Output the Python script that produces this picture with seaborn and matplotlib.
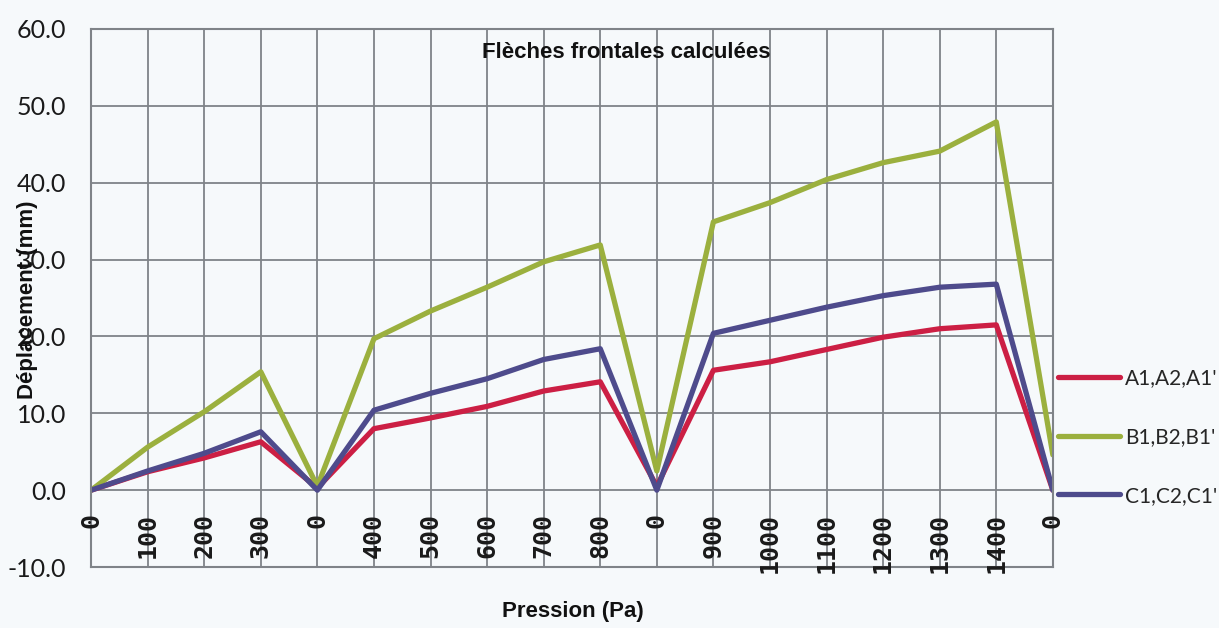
import numpy as np
import pandas as pd
import matplotlib
matplotlib.use("Agg")
import matplotlib.pyplot as plt
import seaborn as sns

# pressure steps (load / unload cycles) and computed frontal deflections (mm)
categories = ["0", "100", "200", "300", "0", "400", "500", "600", "700", "800",
              "0", "900", "1000", "1100", "1200", "1300", "1400", "0"]
series_names = ["A1,A2,A1'", "B1,B2,B1'", "C1,C2,C1'"]
serie_a = [0.0, 2.4, 4.2, 6.3, 0.3, 8.0, 9.4, 10.9, 12.9, 14.1,
           0.5, 15.6, 16.7, 18.3, 19.9, 21.0, 21.5, 0.0]
serie_b = [0.0, 5.6, 10.2, 15.4, 0.5, 19.7, 23.3, 26.4, 29.7, 31.9,
           2.5, 34.9, 37.4, 40.4, 42.6, 44.1, 47.9, 4.6]
serie_c = [0.0, 2.5, 4.8, 7.6, 0.0, 10.4, 12.6, 14.5, 17.0, 18.4,
           0.0, 20.4, 22.1, 23.8, 25.3, 26.4, 26.8, 0.0]
y_ticks = [-10, 0, 10, 20, 30, 40, 50, 60]

colors = ["#cc1f44", "#9bb03e", "#4e4b8c"]
bg = "#f6f9fb"
grid_col = "#7f8388"

sns.set_style("white")
plt.rcParams["font.family"] = ["Liberation Sans", "DejaVu Sans"]

n = len(categories)
df = pd.DataFrame({
    "pos": np.tile(np.arange(n), 3),
    "val": serie_a + serie_b + serie_c,
    "serie": np.repeat(series_names, n),
})

fig = plt.figure(figsize=(12.19, 6.28), dpi=100, facecolor=bg)
ax = fig.add_axes([0.0747, 0.097, 0.789, 0.857], facecolor=bg)

sns.lineplot(data=df, x="pos", y="val", hue="serie", hue_order=series_names,
             palette=dict(zip(series_names, colors)), linewidth=3.8,
             sort=False, estimator=None, ax=ax)

ax.set_xlim(0, n - 1)
ax.set_ylim(-10, 60)
ax.set_yticks(y_ticks)
ax.set_yticklabels([f"{v:.1f}" for v in y_ticks], fontsize=18, family="Lato", color="#1a1a1a")
ax.set_xticks(range(n))
ax.set_xticklabels([])
ax.tick_params(axis="both", length=0)
ax.tick_params(axis="y", pad=18)
ax.grid(True, color=grid_col, linewidth=1.3)
ax.set_axisbelow(True)
for s in ax.spines.values():
    s.set_color(grid_col)
    s.set_linewidth(1.5)
ax.set_xlabel("")
ax.set_ylabel("")

# category labels sit just under the zero line, as in the spreadsheet chart
for i, lab in enumerate(categories):
    ax.text(i, -3.0, lab, rotation=90, ha="center", va="top", fontsize=18,
            fontweight="bold", color="#1a1a1a", family="DejaVu Sans Mono")

fig.text(626 / 1219, 1 - 53 / 628, "Flèches frontales calculées", ha="center", va="center",
         fontsize=16, fontweight="bold", color="#111111")
fig.text(573 / 1219, 1 - 611 / 628, "Pression (Pa)", ha="center", va="center",
         fontsize=16, fontweight="bold", color="#111111")
fig.text(28 / 1219, 1 - 300 / 628, "Déplacement (mm)", ha="center", va="center",
         rotation=90, fontsize=16, fontweight="bold", color="#111111")

ax.legend(loc="center left", bbox_to_anchor=(1.005, 0.2416), frameon=False,
          borderaxespad=0, borderpad=0, handlelength=3.0, handletextpad=0.25,
          labelspacing=1.85, prop={"family": "Lato", "size": 15})

fig.savefig("out.png", dpi=100, facecolor=bg)
